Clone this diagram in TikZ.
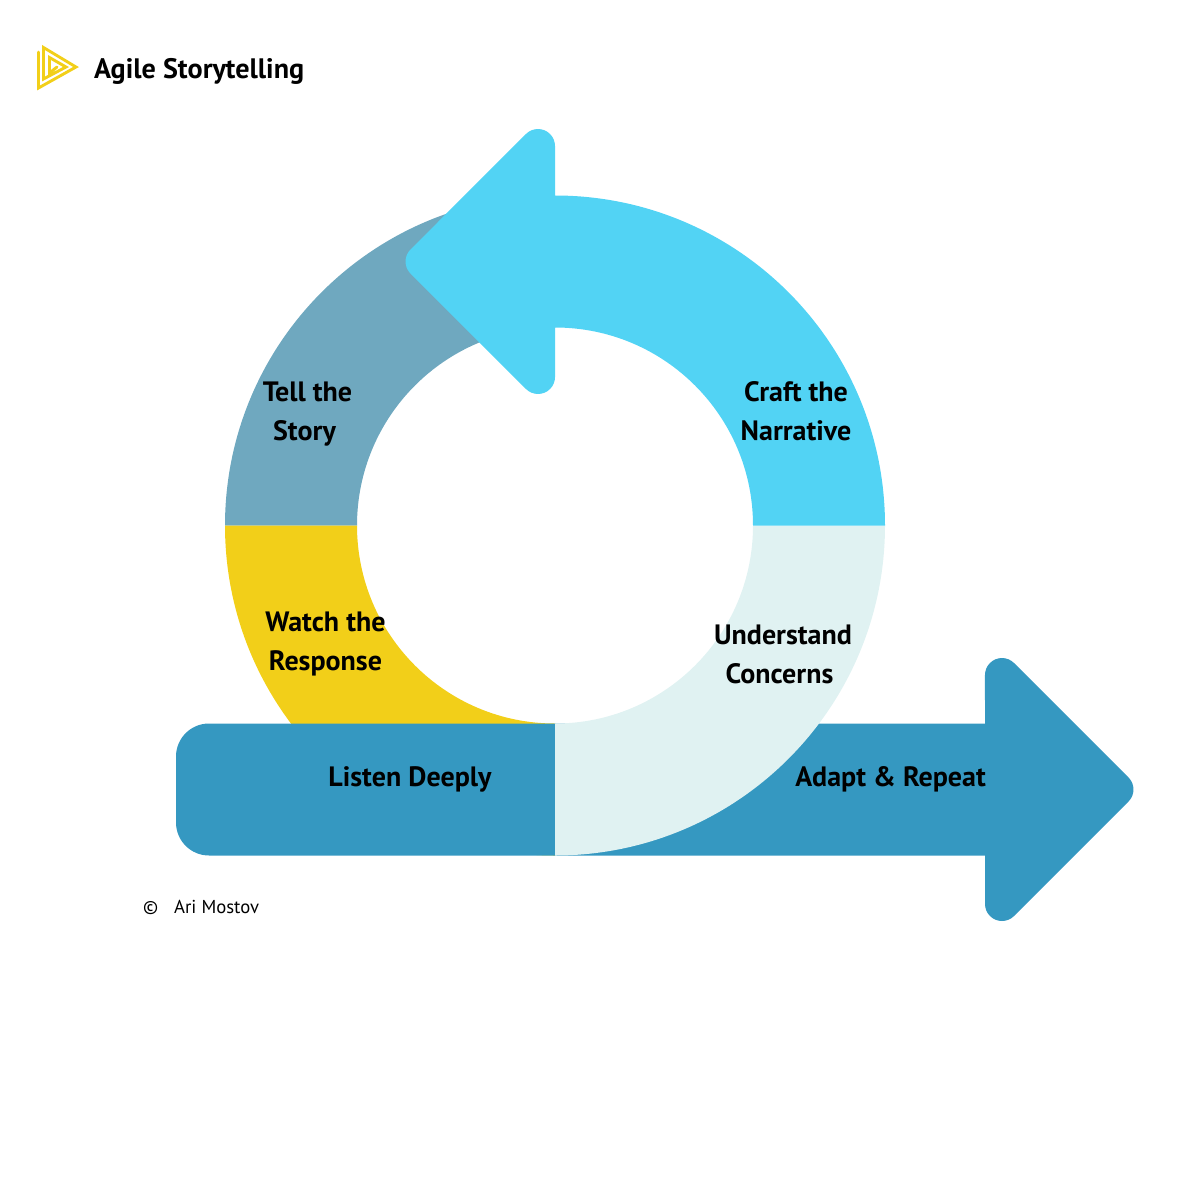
\documentclass[tikz,border=0pt]{standalone}
\usepackage{fontspec}
\setmainfont{PT Sans}
\usetikzlibrary{positioning}

\definecolor{craftblue}{HTML}{52D3F4}
\definecolor{tellblue}{HTML}{6FA8BF}
\definecolor{watchyellow}{HTML}{F2CF19}
\definecolor{paleblue}{HTML}{E0F2F2}
\definecolor{barblue}{HTML}{3598C1}

\begin{document}
\begin{tikzpicture}[
    x=1pt,
    y=-1pt,
    step label/.style={font=\bfseries\fontsize{28}{39}\selectfont, align=center, text=black, inner sep=0pt},
    credit/.style={font=\fontsize{18.7}{22}\selectfont, text=black, inner sep=0pt, anchor=base west},
    logo line/.style={draw=watchyellow, line width=2.9pt, line join=miter, line cap=round}
]
\useasboundingbox (0,0) rectangle (1200,1200);
% ring segments
\fill[tellblue] (225,525.5) arc[start angle=180, end angle=270, radius=330] -- (555,327.5) arc[start angle=270, end angle=180, radius=198] -- cycle;
\fill[watchyellow] (225,525.5) arc[start angle=180, end angle=90, radius=330] -- (555,723.5) arc[start angle=90, end angle=180, radius=198] -- cycle;
% long arrow
\fill[barblue] (555,723.5) -- (209,723.5) arc[start angle=270, end angle=180, radius=33] -- (176,822.5) arc[start angle=180, end angle=90, radius=33] -- (985,855.5) -- (985,904) arc[start angle=180, end angle=45, radius=17] -- (1128.5,801.5) arc[start angle=45, end angle=-45, radius=17] -- (1014,663) arc[start angle=-45, end angle=-180, radius=17] -- (985,723.5) -- cycle;
\fill[paleblue] (885,525.5) arc[start angle=0, end angle=90, radius=330] -- (555,723.5) arc[start angle=90, end angle=0, radius=198] -- cycle;
% curved arrow
\fill[craftblue] (885,525.5) arc[start angle=0, end angle=-90, radius=330] -- (555,146) arc[start angle=0, end angle=-135, radius=17] -- (410.5,249.5) arc[start angle=225, end angle=135, radius=17] -- (526,389) arc[start angle=135, end angle=0, radius=17] -- (555,327.5) arc[start angle=-90, end angle=0, radius=198] -- cycle;
% logo
\draw[logo line] (38.5,52) -- (38.5,88) -- (76,67) -- (43.5,47.5) -- (43.5,79) -- (66,67) -- (49.5,57.5) -- (49.5,73) -- (57,67);
% labels
\node[font=\bfseries\fontsize{28.15}{32}\selectfont, inner sep=0pt, anchor=base west] (title) at (94,78) {Agile Storytelling};
\node[step label] (tell) at (307.5,414) {Tell the\\Story\hspace*{6pt}};
\node[step label] (craft) at (796,411) {Craft the\\Narrative};
\node[step label] (watch) at (325.5,644) {Watch the\\Response};
\node[step label] (understand) at (783,654) {Understand\\Concerns\hspace*{7pt}};
\node[step label] (listen) at (410,779) {Listen Deeply};
\node[step label] (adapt) at (890.5,779) {Adapt \& Repeat};
\node[credit] (copy) at (143,913) {©};
\node[credit] (author) at (174,913) {Ari Mostov};
\end{tikzpicture}
\end{document}
